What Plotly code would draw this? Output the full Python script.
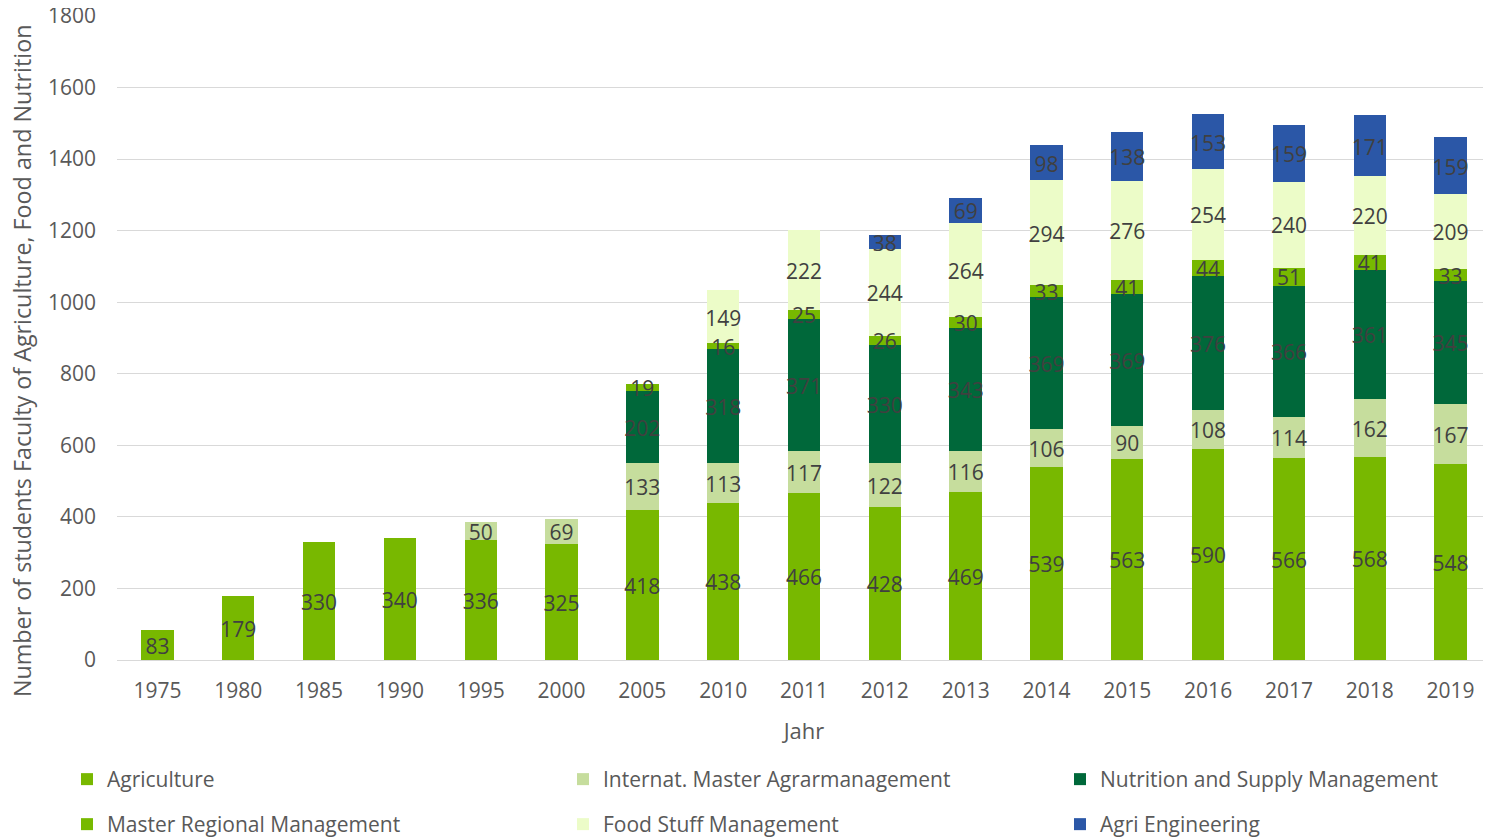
import plotly.graph_objects as go

years = ["1975", "1980", "1985", "1990", "1995", "2000", "2005", "2010", "2011",
         "2012", "2013", "2014", "2015", "2016", "2017", "2018", "2019"]
agriculture = [83, 179, 330, 340, 336, 325, 418, 438, 466, 428, 469, 539, 563, 590, 566, 568, 548]
internat_master = [0, 0, 0, 0, 50, 69, 133, 113, 117, 122, 116, 106, 90, 108, 114, 162, 167]
nutrition = [0, 0, 0, 0, 0, 0, 202, 318, 371, 330, 343, 369, 369, 376, 366, 361, 345]
master_regional = [0, 0, 0, 0, 0, 0, 19, 16, 25, 26, 30, 33, 41, 44, 51, 41, 33]
food_stuff = [0, 0, 0, 0, 0, 0, 0, 149, 222, 244, 264, 294, 276, 254, 240, 220, 209]
agri_eng = [0, 0, 0, 0, 0, 0, 0, 0, 0, 38, 69, 98, 138, 153, 159, 171, 159]

series = [
    ("Agriculture", agriculture, "#78b800"),
    ("Internat. Master Agrarmanagement", internat_master, "#c6dd9d"),
    ("Nutrition and Supply Management", nutrition, "#00683a"),
    ("Master Regional Management", master_regional, "#77b900"),
    ("Food Stuff Management", food_stuff, "#ecfcc8"),
    ("Agri Engineering", agri_eng, "#2b57a7"),
]

# legend slot positions (paper coords): 3 columns x 2 rows
leg_x = [-0.0364, 0.3246, 0.6863]
leg_y = [-0.1537, -0.2236]

FONT = "Open Sans"
fig = go.Figure()
legends = {}
for k, (name, vals, col) in enumerate(series):
    lname = "legend" if k == 0 else f"legend{k + 1}"
    fig.add_trace(go.Bar(x=years, y=vals, name=name, legend=lname,
                         marker=dict(color=col, line=dict(width=0)),
                         hoverinfo="x+y+name"))
    legends[lname] = dict(x=leg_x[k % 3], y=leg_y[k // 3], xanchor="left", yanchor="top",
                          orientation="h", font=dict(size=21, color="#595959"),
                          bgcolor="rgba(0,0,0,0)", itemsizing="constant")

# labels at segment midpoints (small downward nudge for font baseline)
NUDGE = 10
lx, ly, lt = [], [], []
base = [0] * len(years)
for name, vals, col in series:
    for i, v in enumerate(vals):
        if v > 0:
            lx.append(years[i])
            ly.append(base[i] + v / 2 - NUDGE)
            lt.append(str(v))
        base[i] += v
fig.add_trace(go.Scatter(x=lx, y=ly, text=lt, mode="text", showlegend=False,
                         textfont=dict(family=FONT, size=21, color="#404040"),
                         hoverinfo="skip", cliponaxis=False))

fig.update_layout(
    barmode="stack",
    bargap=0.6,
    width=1483, height=830,
    plot_bgcolor="white", paper_bgcolor="white",
    margin=dict(l=109, r=0, t=8, b=178, autoexpand=False),
    font=dict(family=FONT, size=21, color="#595959"),
    xaxis=dict(type="category", range=[-0.5, len(years) - 0.5], showgrid=False, ticks="",
               showline=True, linecolor="#d9d9d9",
               automargin=False, ticklabelstandoff=12,
               tickfont=dict(size=21, color="#595959"),
               title=dict(text="Jahr", font=dict(size=22, color="#595959"), standoff=20)),
    yaxis=dict(range=[0, 1800], dtick=200, showgrid=True, gridcolor="#d9d9d9", gridwidth=1.3,
               zeroline=False, tickfont=dict(size=21, color="#595959"), ticks="",
               automargin=False, ticklabelstandoff=20, ticklabeloverflow="allow"),
    annotations=[dict(text="Number of students Faculty of Agriculture, Food and Nutrition",
                      xref="paper", yref="paper", x=-0.0691, y=0.4643,
                      xanchor="center", yanchor="middle", textangle=-90, showarrow=False,
                      font=dict(size=23.3, color="#595959"))],
    **legends,
)

fig.write_html("out.html")
